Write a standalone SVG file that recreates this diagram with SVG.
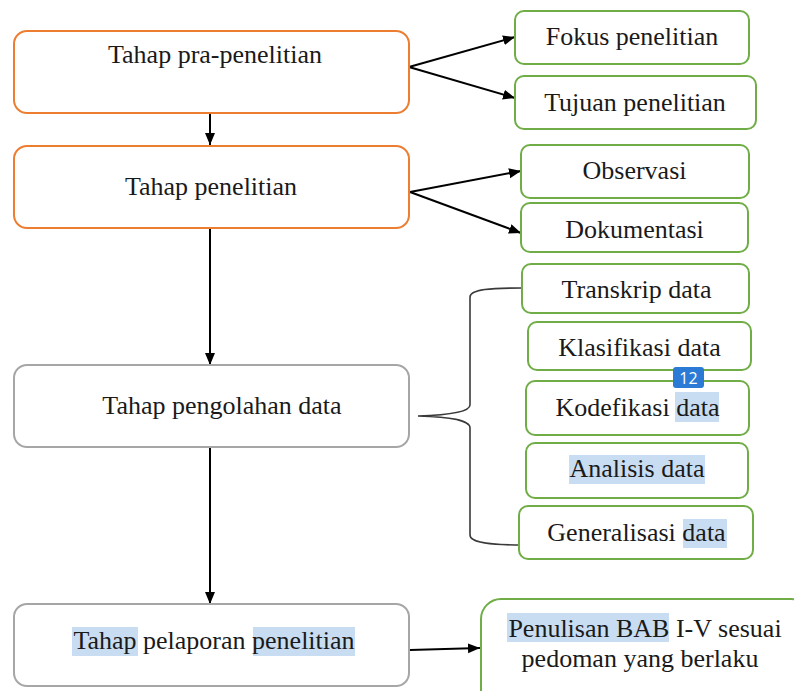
<svg xmlns="http://www.w3.org/2000/svg" width="794" height="691" viewBox="0 0 794 691">
<style>
.box{fill:#fff;stroke-width:2}
.or{stroke:#ED7D31}
.gr{stroke:#70AD47}
.gy{stroke:#A6A6A6}
.t{font-family:"Liberation Serif","Times New Roman",serif;font-size:26px;fill:#1a1a1a;text-anchor:middle}
.hl{fill:#C9DDF2}
.con{stroke:#000;stroke-width:2;fill:none}
</style>
<defs>
<marker id="ah" markerUnits="userSpaceOnUse" markerWidth="13" markerHeight="11" refX="12" refY="5" orient="auto">
<path d="M0,0 L12,5 L0,10 z" fill="#000"/>
</marker>
</defs>
<rect width="794" height="691" fill="#fff"/>
<g id="connectors">
<line class="con" x1="210" y1="113" x2="210" y2="145" marker-end="url(#ah)"/>
<line class="con" x1="210" y1="228" x2="210" y2="365" marker-end="url(#ah)"/>
<line class="con" x1="210" y1="447" x2="210" y2="604" marker-end="url(#ah)"/>
<line class="con" x1="409" y1="67" x2="515" y2="37" marker-end="url(#ah)"/>
<line class="con" x1="409" y1="67" x2="515" y2="98" marker-end="url(#ah)"/>
<line class="con" x1="410" y1="192" x2="521" y2="171" marker-end="url(#ah)"/>
<line class="con" x1="410" y1="192" x2="521" y2="233" marker-end="url(#ah)"/>
<line class="con" x1="410" y1="650" x2="480" y2="648" marker-end="url(#ah)"/>
<path d="M522 288 C492 288 470 289 470 297 L470 405 C470 412 450 415 418 416 C450 417 470 420 470 428 L470 535 C470 543 492 545 522 545" fill="none" stroke="#3a3a3a" stroke-width="1.6"/>
</g>
<g id="n1"><rect class="box or" x="14" y="31" width="395" height="82" rx="13"/><text class="t" x="215" y="63">Tahap pra-penelitian</text></g>
<g id="n2"><rect class="box or" x="14" y="146" width="395" height="82" rx="13"/><text class="t" x="211" y="195">Tahap penelitian</text></g>
<g id="n3"><rect class="box gy" x="14" y="365" width="395" height="82" rx="13"/><text class="t" x="222" y="414">Tahap pengolahan data</text></g>
<g id="n4"><rect class="box gy" x="14" y="604" width="395" height="82" rx="13"/>
<rect class="hl" x="72" y="627" width="66" height="29"/><rect class="hl" x="253" y="627" width="102" height="29"/>
<text class="t" x="214" y="649">Tahap pelaporan penelitian</text></g>
<g id="fokus"><rect class="box gr" x="515" y="11" width="234" height="53" rx="9"/><text class="t" x="632" y="45">Fokus penelitian</text></g>
<g id="tujuan"><rect class="box gr" x="515" y="76" width="241" height="53" rx="9"/><text class="t" x="635" y="111">Tujuan penelitian</text></g>
<g id="observasi"><rect class="box gr" x="521" y="145" width="228" height="53" rx="9"/><text class="t" x="634.5" y="179">Observasi</text></g>
<g id="dokumentasi"><rect class="box gr" x="521" y="203" width="227" height="49" rx="9"/><text class="t" x="634.5" y="238">Dokumentasi</text></g>
<g id="transkrip"><rect class="box gr" x="522" y="264" width="227" height="49" rx="9"/><text class="t" x="636.5" y="298">Transkrip data</text></g>
<g id="klasifikasi"><rect class="box gr" x="528" y="322" width="223" height="48" rx="9"/><text class="t" x="639.5" y="356">Klasifikasi data</text></g>
<g id="kodefikasi"><rect class="box gr" x="526" y="381" width="223" height="54" rx="9"/>
<rect class="hl" x="675" y="392" width="44" height="30"/>
<text class="t" x="637.5" y="416">Kodefikasi data</text></g>
<g id="analisis"><rect class="box gr" x="526" y="443" width="222" height="55" rx="9"/>
<rect class="hl" x="569" y="455" width="136" height="29"/>
<text class="t" x="637" y="477">Analisis data</text></g>
<g id="generalisasi"><rect class="box gr" x="519" y="506" width="234" height="53" rx="9"/>
<rect class="hl" x="683" y="519" width="44" height="29"/>
<text class="t" x="636.5" y="541">Generalisasi data</text></g>
<g id="penulisan"><rect class="box gr" x="481" y="599" width="330" height="110" rx="20"/>
<rect class="hl" x="507" y="613" width="162" height="29"/>
<text class="t" x="645" y="637">Penulisan BAB I-V sesuai</text>
<text class="t" x="640" y="667">pedoman yang berlaku</text></g>
<g id="badge"><rect x="673" y="367" width="31" height="21" rx="3" fill="#2B7BD6"/><text x="688.5" y="383.5" font-family="'Open Sans','Noto Sans',sans-serif" font-size="16" fill="#fff" text-anchor="middle">12</text></g>
</svg>
